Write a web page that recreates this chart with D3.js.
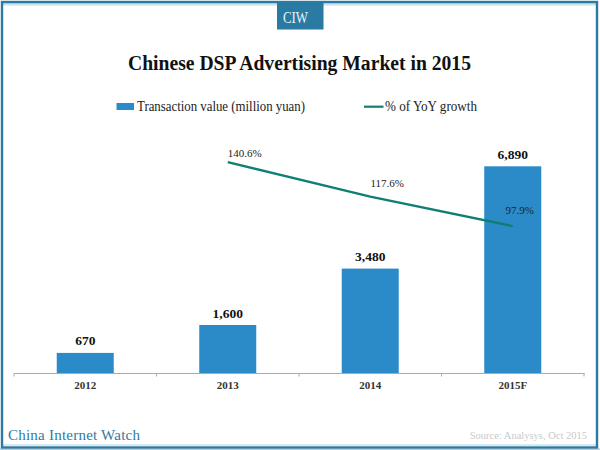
<!DOCTYPE html>
<html>
<head>
<meta charset="utf-8">
<script src="https://cdn.jsdelivr.net/npm/d3@7"></script>
<style>
  html, body { margin: 0; padding: 0; background: #fff; }
  svg { display: block; }
  text { font-family: "Liberation Serif", serif; }
</style>
</head>
<body>
<script>
const years = ["2012", "2013", "2014", "2015F"];
const transactionValue = [670, 1600, 3480, 6890];
const yoyGrowth = [null, 140.6, 117.6, 97.9];
const yoyLabels = [null, "140.6%", "117.6%", "97.9%"];

const W = 600, H = 450;
const blue = "#2b8bc9", green = "#0f7f74", frame = "#2a7ba3";

const svg = d3.select("body").append("svg")
  .attr("width", W)
  .attr("height", H);

//frame with the soft shadow inside the top and bottom
svg.append("rect").attr("x", 0).attr("y", 0).attr("width", W).attr("height", H).attr("fill", "#fff");
svg.append("rect").attr("x", 3).attr("y", 3).attr("width", 594).attr("height", 2.5).attr("fill", "#cfdfe7");
svg.append("rect").attr("x", 3).attr("y", 444).attr("width", 594).attr("height", 2).attr("fill", "#dbe8ee");
svg.append("rect").attr("x", 0).attr("y", 448.5).attr("width", W).attr("height", 1.5).attr("fill", "#b9cfda");
svg.append("rect")
  .attr("x", 2).attr("y", 2)
  .attr("width", 595).attr("height", 445.5)
  .attr("fill", "none")
  .attr("stroke", frame)
  .attr("stroke-width", 2.4);

svg.append("rect").attr("x", 277).attr("y", 2).attr("width", 46.5).attr("height", 27.5).attr("fill", frame);
svg.append("text")
  .attr("x", 295.5).attr("y", 23)
  .attr("text-anchor", "middle")
  .attr("fill", "#e8f3f8")
  .style("font-size", "17px")
  .attr("textLength", 25)
  .attr("lengthAdjust", "spacingAndGlyphs")
  .text("CIW");

svg.append("text")
  .attr("x", 299.5).attr("y", 70)
  .attr("text-anchor", "middle")
  .attr("fill", "#111")
  .style("font-size", "20px")
  .style("font-weight", "bold")
  .attr("textLength", 343)
  .attr("lengthAdjust", "spacingAndGlyphs")
  .text("Chinese DSP Advertising Market in 2015");

//legend
svg.append("rect").attr("x", 116.5).attr("y", 103).attr("width", 17.5).attr("height", 7).attr("fill", blue);
svg.append("text")
  .attr("x", 137).attr("y", 111)
  .attr("fill", "#222")
  .style("font-size", "14px")
  .attr("textLength", 168)
  .attr("lengthAdjust", "spacingAndGlyphs")
  .text("Transaction value (million yuan)");
svg.append("line")
  .attr("x1", 364).attr("x2", 383.5)
  .attr("y1", 106.7).attr("y2", 106.7)
  .attr("stroke", green)
  .attr("stroke-width", 2.2);
svg.append("text")
  .attr("x", 385).attr("y", 111)
  .attr("fill", "#222")
  .style("font-size", "14px")
  .attr("textLength", 92)
  .attr("lengthAdjust", "spacingAndGlyphs")
  .text("% of YoY growth");

//scales
const x = d3.scaleBand()
  .domain(years)
  .range([14, 584])
  .paddingInner(0.6)
  .paddingOuter(0.3);
const yBar = d3.scaleLinear().domain([0, 8000]).range([373, 133]);
const yLine = d3.scaleLinear().domain([0, 160]).range([373, 133]);
const mid = d => x(d) + x.bandwidth() / 2;

svg.selectAll("rect.bar")
  .data(years)
  .join("rect")
  .attr("class", "bar")
  .attr("x", d => x(d))
  .attr("width", x.bandwidth())
  .attr("y", (d, i) => yBar(transactionValue[i]))
  .attr("height", (d, i) => yBar(0) - yBar(transactionValue[i]))
  .attr("fill", blue);

svg.selectAll("text.barLabel")
  .data(years)
  .join("text")
  .attr("class", "barLabel")
  .attr("x", d => mid(d))
  .attr("y", (d, i) => yBar(transactionValue[i]) - 7.5)
  .attr("text-anchor", "middle")
  .attr("fill", "#111")
  .style("font-size", "13.5px")
  .style("font-weight", "bold")
  .text((d, i) => d3.format(",")(transactionValue[i]));

const line = d3.line()
  .defined((d, i) => yoyGrowth[i] != null)
  .x(d => mid(d))
  .y((d, i) => yLine(yoyGrowth[i]));

svg.append("path")
  .datum(years)
  .attr("fill", "none")
  .attr("stroke", green)
  .attr("stroke-width", 2.4)
  .attr("d", line);

//the growth labels sit a different distance from the line for each year
const labelShift = [null, [17, -5], [17, -10], [7, -12]];
svg.selectAll("text.lineLabel")
  .data(years.filter((d, i) => yoyGrowth[i] != null))
  .join("text")
  .attr("class", "lineLabel")
  .attr("x", d => mid(d) + labelShift[years.indexOf(d)][0])
  .attr("y", d => yLine(yoyGrowth[years.indexOf(d)]) + labelShift[years.indexOf(d)][1])
  .attr("text-anchor", "middle")
  .attr("fill", "#222")
  .style("font-size", "11px")
  .text(d => yoyLabels[years.indexOf(d)]);

//axis: ticks go between the bars so they come from a band scale with no padding
const xAxisScale = d3.scaleBand().domain(years).range([14, 584]);
const axisG = svg.append("g")
  .attr("transform", "translate(0,373)")
  .call(d3.axisBottom(x).tickSize(0).tickPadding(8));
axisG.select(".domain").attr("stroke", "#aaa").attr("stroke-width", 1.2);
axisG.selectAll("text")
  .attr("fill", "#333")
  .style("font-family", "'Liberation Serif', serif")
  .style("font-size", "11px")
  .style("font-weight", "bold");

const tickEdges = years.map(d => xAxisScale(d)).concat([584]);
axisG.selectAll("line.sep")
  .data(tickEdges)
  .join("line")
  .attr("class", "sep")
  .attr("x1", d => d).attr("x2", d => d)
  .attr("y1", 0).attr("y2", 3.5)
  .attr("stroke", "#aaa");

svg.append("text")
  .attr("x", 8).attr("y", 440)
  .attr("fill", "#2f7a9e")
  .style("font-size", "15px")
  .attr("textLength", 132)
  .attr("lengthAdjust", "spacing")
  .text("China Internet Watch");

svg.append("text")
  .attr("x", 587).attr("y", 439)
  .attr("text-anchor", "end")
  .attr("fill", "#c9c9c9")
  .style("font-size", "10.5px")
  .text("Source: Analysys, Oct 2015");
</script>
</body>
</html>
